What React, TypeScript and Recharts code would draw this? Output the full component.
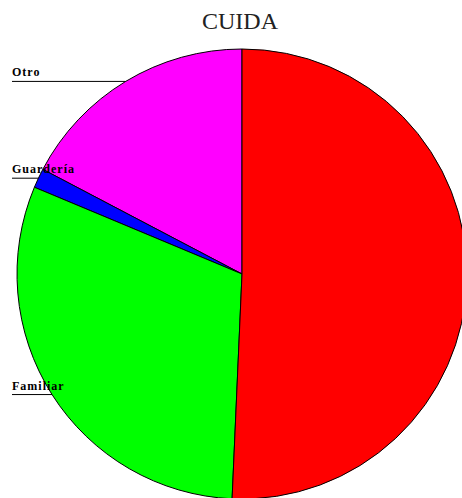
import { PieChart, Pie, Cell } from 'recharts';

const categories = ['Otro', 'Guardería', 'Familiar', 'Padres'];
const values = [17.3, 1.4, 30.6, 50.7];
const colors = ['#ff00ff', '#0000ff', '#00ff00', '#ff0000'];
const labelled = ['Otro', 'Guardería', 'Familiar'];

const RAD = Math.PI / 180;

function renderLabel(props: any) {
  const { cx, cy, midAngle, outerRadius, name } = props;
  if (!labelled.includes(name)) return null;
  const x = cx + outerRadius * Math.cos(-midAngle * RAD);
  const y = cy + outerRadius * Math.sin(-midAngle * RAD);
  return (
    <g>
      <line x1={12} y1={y} x2={x} y2={y} stroke='#000' strokeWidth={1} />
      <text
        x={12}
        y={y - 5}
        fontFamily='Liberation Serif'
        fontSize={12}
        fontWeight='bold'
        letterSpacing={1}
        fill='#000'
      >
        {name}
      </text>
    </g>
  );
}

export default function App() {
  // pie goes clockwise from 12 o'clock, data listed from the top going counter-clockwise
  const data = categories.map((name, i) => ({ name, value: values[i] }));

  return (
    <div style={{ position: 'absolute', left: 0, top: 0, width: 462, height: 498, background: '#fff' }}>
      <PieChart width={462} height={498} margin={{ top: 0, right: 0, bottom: 0, left: 0 }}>
        <text
          x={240}
          y={29}
          textAnchor='middle'
          fontFamily='Liberation Serif'
          fontSize={24}
          fill='#222'
        >
          CUIDA
        </text>
        <Pie
          data={data}
          dataKey='value'
          nameKey='name'
          cx={242}
          cy={274}
          outerRadius={225}
          startAngle={90}
          endAngle={450}
          stroke='#000'
          strokeWidth={1}
          label={renderLabel}
          labelLine={false}
          isAnimationActive={false}
        >
          {data.map((d, i) => (
            <Cell key={d.name} fill={colors[i]} />
          ))}
        </Pie>
      </PieChart>
    </div>
  );
}
